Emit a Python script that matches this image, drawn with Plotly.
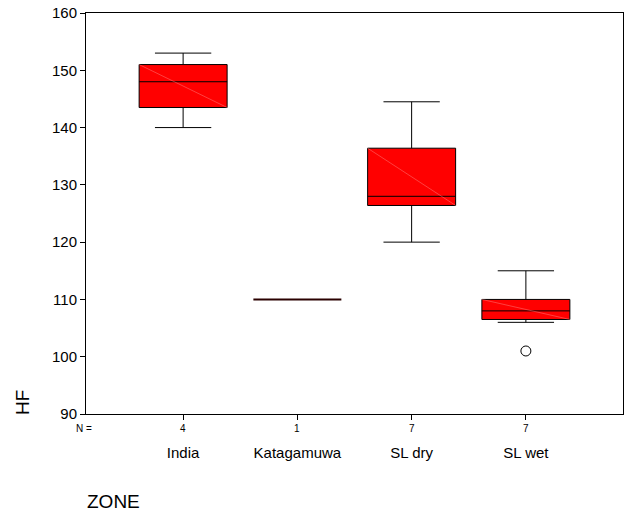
import plotly.graph_objects as go

zones = ["India", "Katagamuwa", "SL dry", "SL wet"]
n_counts = [4, 1, 7, 7]
lower_whisker = [140, 110, 120, 106]
q1_vals = [143.5, 110, 126.4, 106.5]
median_vals = [148, 110, 128, 108]
q3_vals = [151, 110, 136.4, 110]
upper_whisker = [153, 110, 144.5, 115]
outlier_zone = ["SL wet"]
outlier_vals = [101]
y_ticks = [90, 100, 110, 120, 130, 140, 150, 160]

BOX_W = 0.77
FONT = "Liberation Sans, Arial, sans-serif"

fig = go.Figure()
for i, z in enumerate(zones):
    single = n_counts[i] == 1
    fig.add_trace(go.Box(
        x=[z],
        q1=[q1_vals[i]], median=[median_vals[i]], q3=[q3_vals[i]],
        lowerfence=[lower_whisker[i]], upperfence=[upper_whisker[i]],
        fillcolor="#FF0000",
        line=dict(color="#2a0000" if single else "black", width=2 if single else 1),
        width=BOX_W, whiskerwidth=0.64,
        boxpoints=False, showlegend=False, hoverinfo="skip",
    ))
    if not single:
        fig.add_shape(type="line", xref="x", yref="y",
                      x0=i - BOX_W / 2, y0=q3_vals[i], x1=i + BOX_W / 2, y1=q1_vals[i],
                      line=dict(color="rgba(255,140,140,0.45)", width=1))

fig.add_trace(go.Scatter(
    x=outlier_zone, y=outlier_vals, mode="markers",
    marker=dict(symbol="circle-open", size=10, color="black", line=dict(width=1)),
    showlegend=False, hoverinfo="skip",
))

fig.update_layout(
    width=626, height=513,
    margin=dict(l=86, r=3, t=13, b=99),
    paper_bgcolor="white", plot_bgcolor="white",
    font=dict(family=FONT, color="black"),
    xaxis=dict(
        type="category", categoryorder="array", categoryarray=zones,
        range=[-0.85, 3.85],
        showline=True, linecolor="black", linewidth=1, mirror=True,
        ticks="outside", ticklen=5, tickcolor="black",
        showticklabels=True, tickvals=zones,
        ticktext=["<br>" + z for z in zones],
        tickfont=dict(size=15, family=FONT),
        showgrid=False, zeroline=False,
    ),
    yaxis=dict(
        range=[90, 160], tickvals=y_ticks,
        showline=True, linecolor="black", linewidth=1, mirror=True,
        ticks="outside", ticklen=5, tickcolor="black",
        tickfont=dict(size=15, family=FONT),
        showgrid=False, zeroline=False,
    ),
)

for i, z in enumerate(zones):
    fig.add_annotation(x=z, xref="x", y=0, yref="paper", yanchor="middle", yshift=-14,
                       text=str(n_counts[i]), showarrow=False, font=dict(size=10, family=FONT))

fig.add_annotation(x=0, xref="paper", y=0, yref="paper", text="N =", xanchor="right", xshift=8,
                   showarrow=False, font=dict(size=10, family=FONT), yanchor="middle", yshift=-14)

fig.add_annotation(text="HF", xref="paper", yref="paper", x=0, y=0, xanchor="center", yanchor="middle",
                   xshift=-64, yshift=11, textangle=-90, showarrow=False,
                   font=dict(size=19, family=FONT))
fig.add_annotation(text="ZONE", xref="paper", yref="paper", x=0, y=0, xanchor="left", yanchor="middle",
                   xshift=-1, yshift=-87, showarrow=False,
                   font=dict(size=19, family=FONT))

fig.write_html("out.html")
